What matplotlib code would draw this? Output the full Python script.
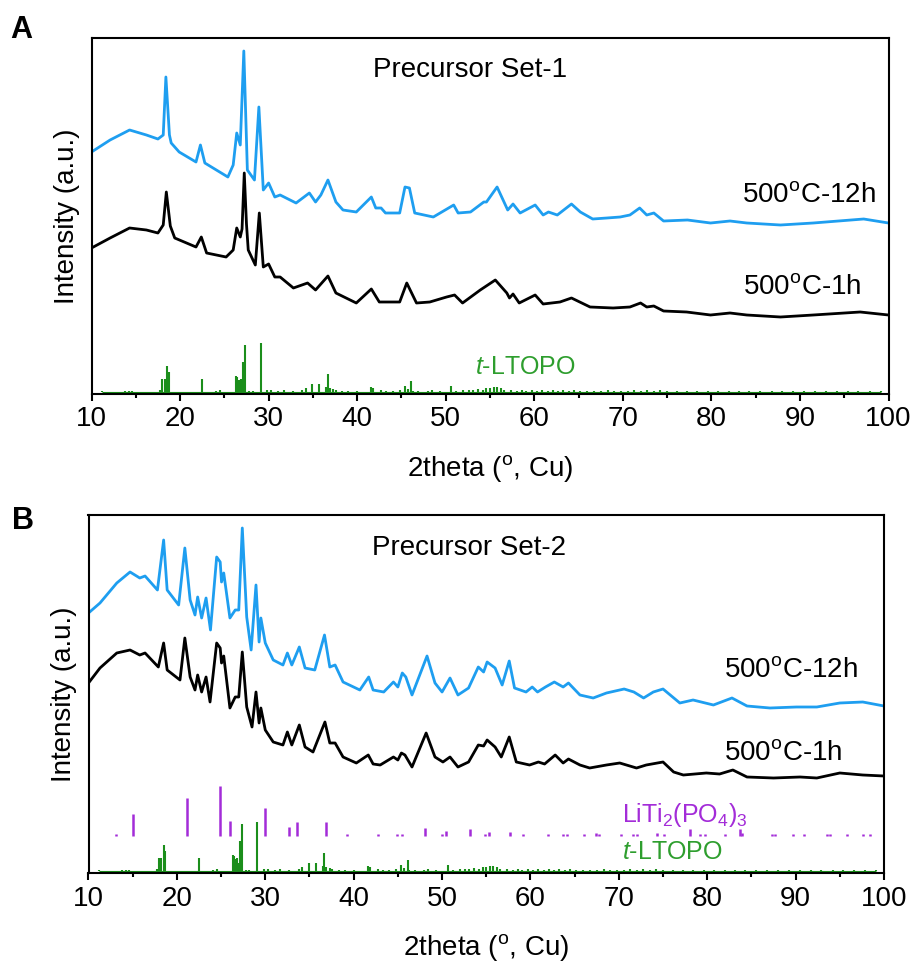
import numpy as np
import matplotlib.pyplot as plt

plt.rcParams['font.family'] = ['Liberation Sans', 'DejaVu Sans']
plt.rcParams['mathtext.fontset'] = 'custom'
plt.rcParams['mathtext.rm'] = 'Liberation Sans'
plt.rcParams['mathtext.it'] = 'Liberation Sans:italic'

# ---- panel A, precursor set-1 (offset curves, a.u.) ----
a_1h_x = [10, 12.1, 14.3, 16.2, 17.5, 18.1, 18.45, 18.9, 19.4, 21.8, 22.4, 23.0, 25.2, 26.0,
          26.4, 26.8, 27.0, 27.25, 27.5, 27.7, 28.5, 28.95, 29.4, 30.0, 30.7, 31.3, 32.8,
          34.4, 35.3, 36.7, 37.6, 39.9, 41.6, 42.5, 44.8, 45.6, 46.7, 48.2, 50.1, 51.0,
          51.9, 53.9, 55.6, 56.9, 57.2, 57.6, 58.3, 60.1, 61.0, 62.9, 64.2, 66.3, 68.9,
          70.8, 72.0, 72.7, 73.5, 74.6, 77.2, 79.9, 82.1, 84.0, 87.8, 91.5, 96.8, 100]
a_1h_y = [146, 156, 166, 164, 161, 169, 202, 168, 156, 147, 157, 141, 137, 144,
          166, 157, 165, 221, 170, 144, 129, 181, 127, 130, 117, 117, 106,
          111, 104, 118, 101, 91, 105, 92, 92, 111, 91, 92, 97, 99,
          91, 104, 114, 101, 96, 100, 91, 99, 90, 92, 96, 87, 86,
          87, 91, 87, 88, 83, 82, 79, 81, 79, 77, 79, 82, 79]

a_12h_x = [10, 12.1, 14.3, 16.2, 17.5, 18.1, 18.4, 18.8, 19.0, 19.9, 21.8, 22.3, 22.8, 25.4,
           26.0, 26.4, 26.8, 27.2, 27.6, 28.4, 28.9, 29.4, 30.0, 30.7, 31.3, 33.1, 34.6,
           35.3, 35.9, 36.7, 37.6, 38.4, 39.9, 41.6, 42.1, 42.7, 43.2, 44.8, 45.4, 45.9,
           46.5, 48.6, 50.9, 51.4, 52.8, 54.3, 54.6, 55.8, 57.0, 57.6, 58.4, 60.1, 61.0,
           61.6, 62.6, 64.2, 65.2, 66.6, 68.2, 69.7, 70.8, 71.9, 72.7, 73.5, 74.6, 77.3,
           79.9, 82.1, 84.0, 87.8, 91.5, 97.2, 100]
a_12h_y = [242, 254, 264, 259, 255, 259, 317, 259, 251, 242, 232, 249, 231, 217,
           229, 261, 249, 343, 224, 214, 287, 204, 211, 197, 199, 191, 201,
           192, 199, 214, 192, 184, 182, 197, 186, 186, 181, 181, 207, 206,
           181, 177, 189, 181, 182, 192, 192, 207, 184, 190, 181, 189, 179,
           182, 179, 190, 182, 175, 176, 177, 179, 186, 179, 181, 173, 174,
           171, 173, 171, 169, 171, 175, 171]

# ---- panel B, precursor set-2 ----
b_1h_x = [10.0, 11.3, 13.2, 14.7, 15.8, 16.4, 17.9, 18.5, 18.9, 20.35, 20.9, 21.5, 22.05,
          22.35, 22.8, 23.3, 23.75, 24.5, 24.9, 25.05, 25.3, 26.0, 26.6, 27.0, 27.4, 27.9,
          28.5, 28.95, 29.3, 29.5, 30.0, 30.9, 32.0, 32.5, 33.0, 33.85, 34.5, 35.4, 36.75,
          37.3, 37.9, 38.8, 40.3, 41.65, 42.2, 43.0, 44.5, 45.0, 45.4, 45.8, 46.6, 48.2,
          49.2, 50.1, 50.9, 51.8, 53.0, 54.1, 54.7, 55.1, 56.0, 56.7, 57.6, 58.4, 59.9,
          60.9, 61.6, 62.8, 63.7, 64.3, 65.6, 66.7, 68.6, 70.1, 72.0, 73.1, 75.0, 76.2,
          77.3, 79.9, 81.4, 82.9, 84.5, 87.5, 90.5, 92.4, 95.0, 97.6, 100]
b_1h_y = [190, 205, 220, 223, 218, 220, 206, 230, 203, 193, 235, 196, 183,
          198, 181, 196, 171, 230, 225, 210, 217, 165, 176, 176, 221, 166,
          146, 181, 150, 165, 143, 131, 128, 141, 128, 148, 126, 121, 151,
          130, 130, 116, 110, 118, 109, 108, 116, 113, 120, 118, 106, 140,
          116, 111, 116, 106, 111, 128, 127, 133, 126, 116, 136, 111, 108,
          111, 109, 118, 110, 114, 108, 105, 108, 110, 105, 108, 111, 101,
          98, 100, 99, 103, 96, 95, 96, 95, 100, 98, 97]

b_12h_x = [10.0, 11.3, 13.2, 14.7, 15.8, 16.4, 17.8, 18.5, 18.9, 20.2, 20.9, 21.5, 22.05,
           22.35, 22.8, 23.3, 23.8, 24.5, 24.9, 25.05, 25.3, 26.0, 26.6, 27.0, 27.4, 27.9,
           28.4, 28.95, 29.3, 29.5, 30.0, 30.9, 32.0, 32.5, 33.0, 33.85, 34.5, 35.6, 36.7,
           37.3, 37.9, 38.8, 40.7, 41.7, 42.2, 43.4, 44.5, 45.0, 45.5, 45.9, 46.6, 48.3,
           49.2, 50.0, 50.9, 51.8, 53.0, 54.1, 54.7, 55.1, 56.0, 56.8, 57.6, 58.2, 59.5,
           60.2, 60.8, 61.7, 62.7, 63.7, 64.3, 65.6, 67.1, 68.6, 70.6, 71.7, 72.8, 73.9,
           75.0, 76.9, 78.4, 80.7, 82.8, 84.5, 87.1, 90.1, 92.4, 95.0, 97.6, 100]
b_12h_y = [260, 270, 290, 301, 295, 297, 283, 333, 283, 268, 325, 273, 258,
           276, 255, 275, 243, 316, 311, 291, 300, 255, 263, 263, 345, 256,
           223, 288, 231, 255, 230, 213, 208, 220, 208, 226, 205, 203, 238,
           206, 208, 191, 183, 196, 183, 181, 191, 186, 200, 196, 178, 217,
           190, 181, 195, 178, 185, 206, 201, 211, 205, 188, 212, 185, 181,
           186, 181, 186, 191, 186, 190, 178, 175, 180, 184, 181, 175, 181,
           184, 170, 173, 168, 175, 167, 165, 166, 166, 170, 171, 167]

# ---- reference patterns (stick positions / heights) ----
ltopo_pos = [11.2, 13.8, 14.2, 14.6, 17.7, 18.0, 18.25, 18.5, 18.7, 22.5,
             24.1, 24.5, 26.3, 26.45, 26.7, 26.85, 27.0, 27.1, 27.35, 27.8,
             28.2, 29.1, 29.8, 30.3, 31.1, 31.7, 32.7, 33.8, 34.2, 34.9,
             35.7, 36.5, 36.7, 36.9, 37.3, 37.6, 38.3, 39.0, 40.0, 41.6,
             41.8, 42.7, 43.3, 44.0, 44.8, 45.4, 45.7, 46.1, 46.3, 46.9,
             48.0, 48.4, 49.3, 50.65, 51.2, 52.0, 52.6, 53.1, 53.6, 54.2,
             54.6, 55.0, 55.4, 55.8, 56.2, 56.6, 57.4, 58.0, 58.6, 59.1,
             59.7, 60.3, 60.9, 61.5, 62.1, 62.7, 63.2, 63.9, 64.5, 65.2,
             66.0, 66.7, 67.5, 68.3, 69.0, 69.8, 70.6, 71.3, 72.0, 72.7,
             73.5, 74.2, 75.0, 76.1, 77.3, 78.4, 79.6, 80.8, 82.0, 83.1,
             84.3, 85.5, 86.8, 88.0, 89.2, 90.5, 91.7, 92.9, 94.2, 95.4,
             96.6, 97.9, 99.1]
ltopo_h = [1, 1, 1, 1, 2, 13, 13, 26, 20, 13,
           1, 2, 16, 15, 12, 13, 8, 30, 47, 1,
           1, 49, 2, 2, 1, 2, 1, 2, 4, 8,
           8, 5, 18, 4, 3, 2, 1, 1, 1, 5,
           4, 2, 1, 1, 2, 6, 3, 11, 1, 1,
           1, 2, 1, 6, 1, 2, 2, 2, 3, 2,
           4, 4, 5, 5, 4, 2, 2, 1, 2, 1,
           2, 1, 2, 1, 2, 1, 2, 1, 2, 1,
           1, 1, 1, 2, 1, 1, 1, 2, 1, 2,
           1, 2, 1, 1, 1, 1, 1, 1, 1, 1,
           1, 1, 1, 1, 1, 1, 1, 1, 1, 1,
           1, 1, 1]

lti_pos = [13.1, 15.0, 21.2, 24.9, 26.0, 30.0, 32.7, 33.6, 36.9, 39.2,
           42.8, 44.9, 45.5, 48.1, 50.0, 50.5, 53.2, 54.9, 55.3, 57.7,
           59.2, 62.0, 63.7, 64.1, 66.1, 67.4, 67.8, 70.3, 71.6, 72.0,
           74.3, 75.1, 78.0, 79.2, 79.8, 82.0, 83.7, 83.9, 87.3, 87.7,
           89.7, 90.9, 93.5, 93.9, 95.8, 97.6, 98.4]
lti_h = [2, 22, 38, 50, 15, 28, 9, 14, 14, 2,
         2, 2, 2, 8, 2, 5, 7, 2, 4, 4,
         2, 2, 2, 2, 2, 3, 2, 2, 2, 2,
         3, 2, 7, 2, 2, 2, 7, 3, 2, 2,
         2, 2, 2, 2, 2, 2, 2]

x_ticks = [10, 20, 30, 40, 50, 60, 70, 80, 90, 100]

BLUE = '#1E9EF0'
GREEN = '#1B8E1B'
GREEN_TXT = '#2E9E2E'
PURPLE = '#A32CD8'
FS = 20
LW = 2.0


def style_axes(ax, ymax):
    ax.set_xlim(10, 100)
    ax.set_ylim(0, ymax)
    ax.set_xticks(x_ticks)
    ax.set_xticks(np.arange(15, 100, 10), minor=True)
    ax.set_yticks([])
    ax.tick_params(axis='x', which='major', direction='out', length=5, width=1.5,
                   labelsize=FS, pad=4, top=False)
    ax.tick_params(axis='x', which='minor', direction='out', length=3, width=1.5, top=False)
    for s in ax.spines.values():
        s.set_linewidth(1.5)
    ax.set_xlabel('2theta ($^{\\rm o}$, Cu)', fontsize=FS, labelpad=15)
    ax.set_ylabel('Intensity (a.u.)', fontsize=FS, labelpad=8)


def sticks(ax, pos, h, base, color, lw):
    pos = np.array(pos)
    h = np.array(h)
    ax.vlines(pos, base, base + h, color=color, lw=lw)


def curve(ax, x, y, color):
    ax.plot(x, y, color=color, lw=LW, solid_joinstyle='round')


fig = plt.figure(figsize=(9.16, 9.71), dpi=100)

# panel A
axA = fig.add_axes([91.5 / 916, 1 - 394 / 971, 797 / 916, 356 / 971])
style_axes(axA, 356)
curve(axA, a_12h_x, a_12h_y, BLUE)
curve(axA, a_1h_x, a_1h_y, 'black')
axA.hlines(2.3, min(ltopo_pos), max(ltopo_pos), color=GREEN, lw=0.8)
sticks(axA, ltopo_pos, ltopo_h, 2.3, GREEN, 1.5)
axA.text(52.7, 324, 'Precursor Set-1', fontsize=FS, ha='center', va='center')
axA.text(91.0, 199, '500$^{\\rm o}$C-12h', fontsize=FS, ha='center', va='center')
axA.text(90.3, 107, '500$^{\\rm o}$C-1h', fontsize=FS, ha='center', va='center')
axA.text(59.0, 27, '$t$-LTOPO', fontsize=18, color=GREEN_TXT, ha='center', va='center')

# panel B
axB = fig.add_axes([88.5 / 916, 1 - 873 / 971, 795.5 / 916, 358 / 971])
style_axes(axB, 358)
curve(axB, b_12h_x, b_12h_y, BLUE)
curve(axB, b_1h_x, b_1h_y, 'black')
axB.hlines(2.0, min(ltopo_pos), max(ltopo_pos), color=GREEN, lw=0.8)
sticks(axB, ltopo_pos, ltopo_h, 2.0, GREEN, 1.5)
sticks(axB, lti_pos, lti_h, 37, PURPLE, 1.8)
axB.text(53.0, 325, 'Precursor Set-2', fontsize=FS, ha='center', va='center')
axB.text(89.5, 203, '500$^{\\rm o}$C-12h', fontsize=FS, ha='center', va='center')
axB.text(88.6, 120, '500$^{\\rm o}$C-1h', fontsize=FS, ha='center', va='center')
axB.text(77.5, 58, 'LiTi$_2$(PO$_4$)$_3$', fontsize=18, color=PURPLE, ha='center', va='center')
axB.text(76.1, 21, '$t$-LTOPO', fontsize=18, color=GREEN_TXT, ha='center', va='center')

fig.text(10 / 916, 1 - 38 / 971, 'A', fontsize=22, fontweight='bold', va='baseline')
fig.text(12 / 916, 1 - 529 / 971, 'B', fontsize=22, fontweight='bold', va='baseline')

fig.savefig('out.png', dpi=100)
